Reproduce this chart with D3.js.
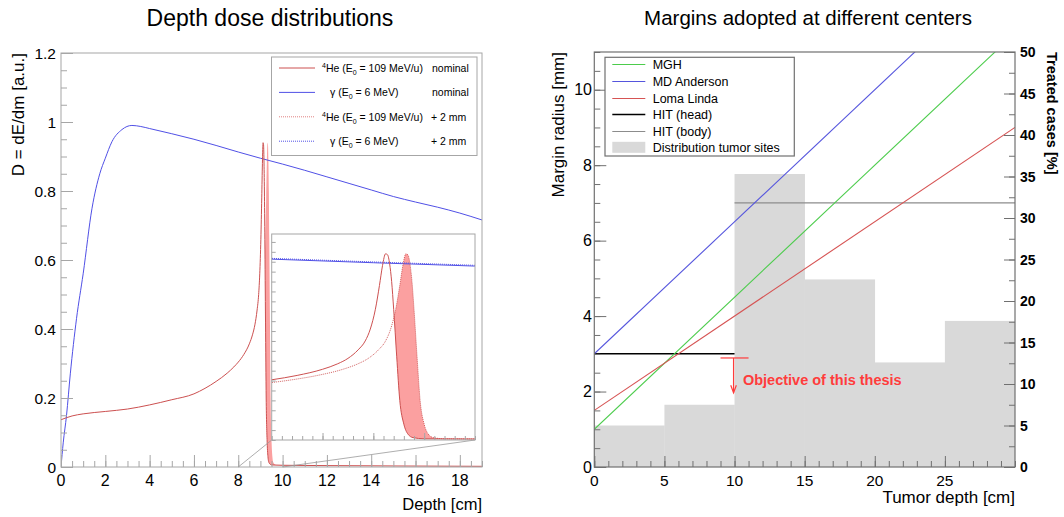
<!DOCTYPE html>
<html>
<head>
<meta charset="utf-8">
<script src="https://cdn.jsdelivr.net/npm/d3@7"></script>
<style>
body { margin: 0; background: #fff; }
svg { display: block; font-family: "Liberation Sans", Arial, Helvetica, sans-serif; }
</style>
</head>
<body>
<div id="chart"></div>
<script>
// ---- left panel: depth dose curves ----
var photonDepth = [0, 0.1, 0.25, 0.42, 0.7, 1.0, 1.4, 1.75, 2.0, 2.3, 2.75, 3.2, 3.6, 4, 5, 6, 7, 8, 9, 10, 11, 12, 13, 14, 15, 16, 17, 18, 19];
var photonDose  = [0.0, 0.07, 0.15, 0.27, 0.43, 0.56, 0.75, 0.85, 0.895, 0.943, 0.978, 0.99, 0.987, 0.981, 0.966, 0.95, 0.932, 0.913, 0.895, 0.878, 0.86, 0.841, 0.822, 0.803, 0.784, 0.768, 0.753, 0.736, 0.716];

// +2 mm photon curve, only distinguishable in the zoomed inset
var photonShiftDepth = [7, 8, 9, 10, 11, 12];
var photonShiftDose  = [0.936, 0.917, 0.899, 0.882, 0.864, 0.845];

var heDepth = [0, 0.5, 1, 2, 3, 4, 5, 6, 6.5, 7, 7.5, 7.8, 8.0, 8.25, 8.5, 8.65, 8.75, 8.85, 8.92, 8.97, 9.02, 9.06, 9.09, 9.12, 9.14, 9.16, 9.18, 9.20, 9.23, 9.26, 9.30, 9.34, 9.39, 9.5, 10, 12, 15, 19];
var heDose  = [0.137, 0.148, 0.154, 0.161, 0.168, 0.18, 0.195, 0.212, 0.228, 0.248, 0.272, 0.29, 0.304, 0.326, 0.357, 0.385, 0.412, 0.455, 0.50, 0.56, 0.66, 0.78, 0.88, 0.94, 0.935, 0.89, 0.80, 0.66, 0.42, 0.20, 0.08, 0.03, 0.012, 0.006, 0.005, 0.004, 0.003, 0.002];

var heShiftDepth = [0.2, 0.7, 1.2, 2.2, 3.2, 4.2, 5.2, 6.2, 6.7, 7.2, 7.7, 8.0, 8.2, 8.45, 8.7, 8.85, 8.95, 9.05, 9.12, 9.17, 9.22, 9.26, 9.29, 9.32, 9.34, 9.36, 9.38, 9.40, 9.43, 9.46, 9.50, 9.54, 9.59, 9.7, 10.2, 12.2, 15.2, 19];
var heShiftDose  = [0.137, 0.148, 0.154, 0.161, 0.168, 0.18, 0.195, 0.212, 0.228, 0.248, 0.272, 0.29, 0.304, 0.326, 0.357, 0.385, 0.412, 0.455, 0.50, 0.56, 0.66, 0.78, 0.88, 0.94, 0.935, 0.89, 0.80, 0.66, 0.42, 0.20, 0.08, 0.03, 0.012, 0.006, 0.005, 0.004, 0.003, 0.002];

var depthTicks = [0, 2, 4, 6, 8, 10, 12, 14, 16, 18];
var doseTicks = [0, 0.2, 0.4, 0.6, 0.8, 1, 1.2];
var insetDepth = [8, 10];

// ---- right panel: margins ----
var centers = ['MGH', 'MD Anderson', 'Loma Linda', 'HIT (head)', 'HIT (body)'];
var centerDepth = [[0, 30], [0, 30], [0, 30], [0, 10], [10, 30]];
var centerMargin = [[1.0, 11.5], [3.0, 13.5], [1.5, 9.0], [3.0, 3.0], [7.0, 7.0]];
var centerColor = ['#4ccc4c', '#5555dd', '#d65353', '#000000', '#8c8c8c'];

var binEdges = [0, 5, 10, 15, 20, 25, 30];
var binCases = [5.0, 7.5, 35.3, 22.6, 12.6, 17.6];

var tumorTicks = [0, 5, 10, 15, 20, 25];
var marginTicks = [0, 2, 4, 6, 8, 10];
var caseTicks = [0, 5, 10, 15, 20, 25, 30, 35, 40, 45, 50];

var width = 1064, height = 517;
var svg = d3.select('#chart').append('svg')
    .attr('width', width)
    .attr('height', height);
svg.append('rect').attr('width', width).attr('height', height).attr('fill', '#fff');
var defs = svg.append('defs');

function pairs(xs, ys) {
    return xs.map(function(d, i) { return [d, ys[i]]; });
}

function ticks(g, axis, values, len, color) {
    g.call(axis.tickValues(values).tickSizeInner(-len).tickSizeOuter(0).tickFormat(''))
        .attr('color', color);
    g.select('.domain').remove();
    g.selectAll('text').remove();
}

// ================= LEFT PANEL =================
var x1 = d3.scaleLinear().domain([0, 19]).range([61, 482]);
var y1 = d3.scaleLinear().domain([0, 1.2]).range([467, 53]);
var grayL = '#a6a6a6';

defs.append('clipPath').attr('id', 'clipL').append('rect')
    .attr('x', 61).attr('y', 53).attr('width', 421).attr('height', 414);

svg.append('text').attr('x', 270).attr('y', 26).attr('text-anchor', 'middle')
    .attr('font-size', 23).text('Depth dose distributions');

function drawCurves(g, sx, sy, clipId, withShift) {
    var line = d3.line().x(function(d) { return sx(d[0]); }).y(function(d) { return sy(d[1]); })
        .curve(d3.curveMonotoneX);
    var top = sy.domain()[1];
    defs.append('clipPath').attr('id', clipId).append('path')
        .attr('d', d3.area().x(function(d) { return sx(d[0]); })
            .y0(function(d) { return sy(d[1]); }).y1(function() { return sy(top); })
            .curve(d3.curveMonotoneX)(pairs(heDepth, heDose)));
    g.append('path')
        .attr('d', d3.area().x(function(d) { return sx(d[0]); })
            .y0(sy(0)).y1(function(d) { return sy(d[1]); })
            .curve(d3.curveMonotoneX)(pairs(heShiftDepth, heShiftDose)))
        .attr('clip-path', 'url(#' + clipId + ')')
        .attr('fill', '#fba0a0');
    if (withShift) {
        g.append('path').attr('d', line(pairs(photonShiftDepth, photonShiftDose)))
            .attr('fill', 'none').attr('stroke', '#5050e6').attr('stroke-width', 1)
            .attr('stroke-dasharray', '1,1');
    }
    g.append('path').attr('d', line(pairs(photonDepth, photonDose)))
        .attr('fill', 'none').attr('stroke', '#5050e6').attr('stroke-width', 1);
    if (withShift) {
        g.append('path').attr('d', line(pairs(heShiftDepth, heShiftDose)))
            .attr('fill', 'none').attr('stroke', '#cc5050').attr('stroke-width', 0.9)
            .attr('stroke-dasharray', '1,1');
    }
    g.append('path').attr('d', line(pairs(heDepth, heDose)))
        .attr('fill', 'none').attr('stroke', '#cc5050').attr('stroke-width', 1);
}

var plotL = svg.append('g').attr('clip-path', 'url(#clipL)');
drawCurves(plotL, x1, y1, 'fillL', false);

// axes
ticks(svg.append('g').attr('transform', 'translate(0,467)'), d3.axisBottom(x1), d3.range(0, 19.01, 0.5), 6, grayL);
ticks(svg.append('g').attr('transform', 'translate(0,467)'), d3.axisBottom(x1), depthTicks, 12, grayL);
ticks(svg.append('g').attr('transform', 'translate(61,0)'), d3.axisLeft(y1), d3.range(0, 1.201, 0.05), 6, grayL);
ticks(svg.append('g').attr('transform', 'translate(61,0)'), d3.axisLeft(y1), doseTicks, 12, grayL);
svg.append('rect').attr('x', 61).attr('y', 53).attr('width', 421).attr('height', 414)
    .attr('fill', 'none').attr('stroke', grayL).attr('stroke-width', 1);

svg.append('g').selectAll('text').data(depthTicks).enter().append('text')
    .attr('x', function(d) { return x1(d); }).attr('y', 486)
    .attr('text-anchor', 'middle').attr('font-size', 16).text(function(d) { return d; });
svg.append('g').selectAll('text').data(doseTicks).enter().append('text')
    .attr('x', 56).attr('y', function(d) { return y1(d); }).attr('dy', '0.36em')
    .attr('text-anchor', 'end').attr('font-size', 15.5).text(function(d) { return d; });
svg.append('text').attr('x', 482).attr('y', 510).attr('text-anchor', 'end')
    .attr('font-size', 16.5).text('Depth [cm]');
svg.append('text').attr('transform', 'translate(24,53) rotate(-90)').attr('text-anchor', 'end')
    .attr('font-size', 17).text('D = dE/dm [a.u.]');

// legend
var legL = svg.append('g');
legL.append('rect').attr('x', 271.5).attr('y', 57).attr('width', 205.5).attr('height', 98.5)
    .attr('fill', '#fff').attr('stroke', grayL);
var legRows = [
    {he: true, color: '#cc5050', dash: null, tag: 'nominal'},
    {he: false, color: '#5050e6', dash: null, tag: 'nominal'},
    {he: true, color: '#e08080', dash: '1,1', tag: '+ 2 mm'},
    {he: false, color: '#5050e6', dash: '1,1', tag: '+ 2 mm'}
];
legRows.forEach(function(r, i) {
    var yy = 68 + i * 24.4;
    legL.append('line').attr('x1', 279).attr('x2', 315).attr('y1', yy).attr('y2', yy)
        .attr('stroke', r.color).attr('stroke-dasharray', r.dash);
    var t = legL.append('text').attr('x', r.he ? 322 : 330).attr('y', yy + 3.8).attr('font-size', 10.5);
    if (r.he) {
        t.append('tspan').attr('font-size', 7).attr('dy', -4).text('4');
        t.append('tspan').attr('dy', 4).text('He (E');
    } else {
        t.append('tspan').text('\u03b3 (E');
    }
    t.append('tspan').attr('font-size', 7).attr('dy', 3).text('0');
    t.append('tspan').attr('dy', -3).text(r.he ? ' = 109 MeV/u)' : ' = 6 MeV)');
    legL.append('text').attr('x', r.tag === 'nominal' ? 432 : 431).attr('y', yy + 3.8)
        .attr('font-size', 10.5).text(r.tag);
});

// zoom connector lines + inset
var ix = d3.scaleLinear().domain(insetDepth).range([271.7, 475]);
var iy = d3.scaleLinear().domain([0, 1.04]).range([440, 234]);
svg.append('line').attr('x1', x1(insetDepth[0])).attr('y1', y1(0)).attr('x2', ix.range()[0]).attr('y2', iy(0))
    .attr('stroke', '#999').attr('stroke-width', 0.8);
svg.append('line').attr('x1', x1(insetDepth[1])).attr('y1', y1(0)).attr('x2', ix.range()[1]).attr('y2', iy(0))
    .attr('stroke', '#999').attr('stroke-width', 0.8);

svg.append('rect').attr('x', 271.7).attr('y', 234).attr('width', 203.3).attr('height', 206).attr('fill', '#fff');
defs.append('clipPath').attr('id', 'clipI').append('rect')
    .attr('x', 271.7).attr('y', 234).attr('width', 203.3).attr('height', 206);
var plotI = svg.append('g').attr('clip-path', 'url(#clipI)');
drawCurves(plotI, ix, iy, 'fillI', true);
ticks(svg.append('g').attr('transform', 'translate(0,440)'), d3.axisBottom(ix), d3.range(8, 10.001, 0.1), 4, grayL);
ticks(svg.append('g').attr('transform', 'translate(0,440)'), d3.axisBottom(ix), [8.5, 9, 9.5], 7, grayL);
ticks(svg.append('g').attr('transform', 'translate(271.7,0)'), d3.axisLeft(iy), d3.range(0, 1.04, 0.05), 4, grayL);
svg.append('rect').attr('x', 271.7).attr('y', 234).attr('width', 203.3).attr('height', 206)
    .attr('fill', 'none').attr('stroke', grayL);

// ================= RIGHT PANEL =================
var x2 = d3.scaleLinear().domain([0, 30]).range([594.3, 1015]);
var y2 = d3.scaleLinear().domain([0, 11]).range([467, 52]);
var y3 = d3.scaleLinear().domain([0, 50]).range([467, 52]);
var grayR = '#707070';

svg.append('text').attr('x', 808).attr('y', 25).attr('text-anchor', 'middle')
    .attr('font-size', 20.5).text('Margins adopted at different centers');

defs.append('clipPath').attr('id', 'clipR').append('rect')
    .attr('x', 594.3).attr('y', 52).attr('width', 420.7).attr('height', 415);
var plotR = svg.append('g').attr('clip-path', 'url(#clipR)');

plotR.selectAll('.bin').data(binCases).enter().append('rect')
    .attr('class', 'bin')
    .attr('x', function(d, i) { return x2(binEdges[i]); })
    .attr('width', function(d, i) { return x2(binEdges[i + 1]) - x2(binEdges[i]) + 0.3; })
    .attr('y', function(d) { return y3(d); })
    .attr('height', function(d) { return y3(0) - y3(d); })
    .attr('fill', '#d9d9d9');

var order = [4, 3, 0, 1, 2];
order.forEach(function(i) {
    plotR.append('line')
        .attr('x1', x2(centerDepth[i][0])).attr('x2', x2(centerDepth[i][1]))
        .attr('y1', y2(centerMargin[i][0])).attr('y2', y2(centerMargin[i][1]))
        .attr('stroke', centerColor[i]).attr('stroke-width', i === 3 ? 1.4 : 1.1);
});

// annotation
var red = '#ff3c3c';
svg.append('line').attr('x1', x2(9.0)).attr('x2', x2(11.0)).attr('y1', y2(2.89)).attr('y2', y2(2.89))
    .attr('stroke', red).attr('stroke-width', 1.2);
svg.append('line').attr('x1', x2(9.93)).attr('x2', x2(9.93)).attr('y1', y2(2.89)).attr('y2', y2(1.97))
    .attr('stroke', red).attr('stroke-width', 1.2);
svg.append('path')
    .attr('d', 'M' + (x2(9.93) - 2.8) + ',' + (y2(1.97) - 7.5) + 'L' + x2(9.93) + ',' + y2(1.97) +
        'L' + (x2(9.93) + 2.8) + ',' + (y2(1.97) - 7.5))
    .attr('fill', 'none').attr('stroke', red).attr('stroke-width', 1.2);
svg.append('text').attr('x', x2(10.6)).attr('y', y2(2.17)).attr('font-size', 14.5)
    .attr('font-weight', 'bold').attr('fill', red).text('Objective of this thesis');

// axes
ticks(svg.append('g').attr('transform', 'translate(0,467)'), d3.axisBottom(x2), d3.range(0, 30.01, 1), 6, grayR);
ticks(svg.append('g').attr('transform', 'translate(0,467)'), d3.axisBottom(x2), tumorTicks, 11, grayR);
ticks(svg.append('g').attr('transform', 'translate(594.3,0)'), d3.axisLeft(y2), d3.range(0, 11.01, 0.5), 6, grayR);
ticks(svg.append('g').attr('transform', 'translate(594.3,0)'), d3.axisLeft(y2), marginTicks, 12, grayR);
ticks(svg.append('g').attr('transform', 'translate(1015,0)'), d3.axisRight(y3), d3.range(0, 50.01, 2.5), 6, grayR);
ticks(svg.append('g').attr('transform', 'translate(1015,0)'), d3.axisRight(y3), caseTicks, 11, grayR);
svg.append('rect').attr('x', 594.3).attr('y', 52).attr('width', 420.7).attr('height', 415)
    .attr('fill', 'none').attr('stroke', grayR).attr('stroke-width', 1.2);

svg.append('g').selectAll('text').data(tumorTicks).enter().append('text')
    .attr('x', function(d) { return x2(d); }).attr('y', 485.5)
    .attr('text-anchor', 'middle').attr('font-size', 15.5).text(function(d) { return d; });
svg.append('g').selectAll('text').data(marginTicks).enter().append('text')
    .attr('x', 592).attr('y', function(d) { return y2(d); }).attr('dy', '0.36em')
    .attr('text-anchor', 'end').attr('font-size', 16).text(function(d) { return d; });
svg.append('g').selectAll('text').data(caseTicks).enter().append('text')
    .attr('x', 1020).attr('y', function(d) { return y3(d); }).attr('dy', '0.36em')
    .attr('font-size', 14).attr('font-weight', 'bold').text(function(d) { return d; });
svg.append('text').attr('x', 1015).attr('y', 502.5).attr('text-anchor', 'end')
    .attr('font-size', 17).text('Tumor depth [cm]');
svg.append('text').attr('transform', 'translate(564,52) rotate(-90)').attr('text-anchor', 'end')
    .attr('font-size', 17).text('Margin radius [mm]');
svg.append('text').attr('transform', 'translate(1047,52) rotate(90)')
    .attr('font-size', 14.5).attr('font-weight', 'bold').text('Treated cases [%]');

// legend
var legR = svg.append('g');
legR.append('rect').attr('x', 605).attr('y', 57.3).attr('width', 189.3).attr('height', 98.7)
    .attr('fill', '#fff').attr('stroke', grayR).attr('stroke-width', 1.2);
centers.forEach(function(name, i) {
    var yy = Math.round(64.3 + i * 16.6) + 0.5;
    legR.append('line').attr('x1', 612.3).attr('x2', 645.3).attr('y1', yy).attr('y2', yy)
        .attr('stroke', centerColor[i]).attr('stroke-width', i === 3 ? 1.6 : 1.2);
    legR.append('text').attr('x', 652.7).attr('y', yy).attr('dy', '0.36em')
        .attr('font-size', 12.5).text(name);
});
var yh = 64.3 + 5 * 16.6;
legR.append('rect').attr('x', 612.3).attr('y', yh - 5.5).attr('width', 33).attr('height', 11).attr('fill', '#d9d9d9');
legR.append('text').attr('x', 652.7).attr('y', yh).attr('dy', '0.36em')
    .attr('font-size', 12.5).text('Distribution tumor sites');
</script>
</body>
</html>
